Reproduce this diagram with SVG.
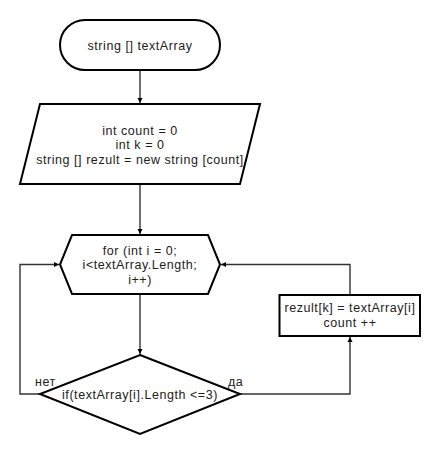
<svg xmlns="http://www.w3.org/2000/svg" width="440" height="455" viewBox="0 0 440 455">
<style>
.shape{fill:#fff;stroke:#000;stroke-width:2}
.conn{fill:none;stroke:#333;stroke-width:1.4}
text{font-family:"Liberation Sans",Arial,sans-serif;font-size:12.5px;letter-spacing:0.55px;fill:#222;text-anchor:middle}
.lbl{text-anchor:start}
</style>
<defs>
<marker id="arr" markerUnits="userSpaceOnUse" markerWidth="6" markerHeight="6" viewBox="0 0 6 6" refX="5" refY="3" orient="auto">
<path d="M0,0.5 L5,3 L0,5.5 Z" fill="#000"/>
</marker>
</defs>
<rect width="440" height="455" fill="#fff"/>
<g id="connectors">
<path class="conn" d="M140,70 V103" marker-end="url(#arr)"/>
<path class="conn" d="M140,184 V234" marker-end="url(#arr)"/>
<path class="conn" d="M140,294 V354" marker-end="url(#arr)"/>
<path class="conn" d="M40,394 H20 V264.5 H59" marker-end="url(#arr)"/>
<path class="conn" d="M240,394 H350 V337" marker-end="url(#arr)"/>
<path class="conn" d="M350,295 V264.5 H221" marker-end="url(#arr)"/>
<text class="lbl" x="35" y="385.5">нет</text>
<text class="lbl" x="228" y="385.5">да</text>
</g>
<g id="start">
<rect class="shape" x="60" y="20" width="160" height="50" rx="25" ry="25"/>
<text x="140" y="49.5">string [] textArray</text>
</g>
<g id="init">
<polygon class="shape" points="40,104 260,104 240,184 20,184"/>
<text x="140" y="134.5">int count = 0<tspan x="140" dy="14.5">int k = 0</tspan><tspan x="140" dy="14.5">string [] rezult = new string [count]</tspan></text>
</g>
<g id="loop">
<polygon class="shape" points="72,235 208,235 220,264.5 208,294 72,294 60,264.5"/>
<text x="140" y="254.5">for (int i = 0;<tspan x="140" dy="14.5">i&lt;textArray.Length;</tspan><tspan x="140" dy="14.5">i++)</tspan></text>
</g>
<g id="cond">
<polygon class="shape" points="140,355 240,394 140,434 40,394"/>
<text x="140" y="399">if(textArray[i].Length &lt;=3)</text>
</g>
<g id="body">
<rect class="shape" x="279.5" y="295" width="140.5" height="41"/>
<text x="350" y="312">rezult[k] = textArray[i]<tspan x="350" dy="14.5">count ++</tspan></text>
</g>
</svg>
